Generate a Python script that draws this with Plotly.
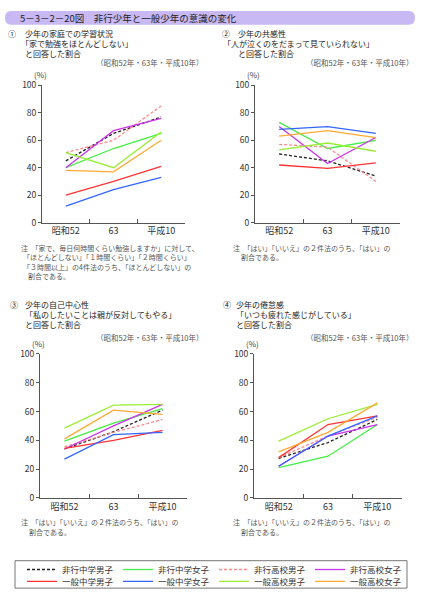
import plotly.graph_objects as go

W, H = 421, 600
FONT = "Noto Sans CJK JP"

categories = ["昭和52", "63", "平成10"]
series_names = ["非行中学男子", "非行中学女子", "非行高校男子", "非行高校女子",
                "一般中学男子", "一般中学女子", "一般高校男子", "一般高校女子"]
series_colors = ["#222222", "#44ee44", "#ff8888", "#cc33ee",
                 "#ff3333", "#3366ff", "#99ee33", "#ffaa33"]
series_dash = ["3px,2px", "solid", "3px,2px", "solid", "solid", "solid", "solid", "solid"]

# Panel 1: study at home - "hardly study"
p1_jh_delinq_m = [45, 65, 77]
p1_jh_delinq_f = [40, 54, 65]
p1_hs_delinq_m = [51, 60, 85]
p1_hs_delinq_f = [40, 67, 76]
p1_jh_gen_m = [20, 30, 41]
p1_jh_gen_f = [12, 24, 33]
p1_hs_gen_m = [51, 40, 66]
p1_hs_gen_f = [38, 37, 60]

# Panel 2: empathy
p2_jh_delinq_m = [50, 45, 34]
p2_jh_delinq_f = [73, 54, 60]
p2_hs_delinq_m = [57, 55, 30]
p2_hs_delinq_f = [70, 43, 62]
p2_jh_gen_m = [42, 39.5, 43.5]
p2_jh_gen_f = [68, 70, 65]
p2_hs_gen_m = [53, 58, 52]
p2_hs_gen_f = [63, 67, 62]

# Panel 3: self-centredness
p3_jh_delinq_m = [34, 46, 61]
p3_jh_delinq_f = [39.5, 52, 62]
p3_hs_delinq_m = [35.5, 45.5, 54.5]
p3_hs_delinq_f = [34, 50, 65]
p3_jh_gen_m = [34.5, 40, 47]
p3_jh_gen_f = [27, 44, 45.5]
p3_hs_gen_m = [48.5, 64.5, 65]
p3_hs_gen_f = [41, 61, 58]

# Panel 4: fatigue
p4_jh_delinq_m = [27.5, 38.5, 54.5]
p4_jh_delinq_f = [21, 29, 51]
p4_hs_delinq_m = [28, 43, 56]
p4_hs_delinq_f = [22, 43, 51]
p4_jh_gen_m = [28, 51, 57]
p4_jh_gen_f = [22, 43, 57]
p4_hs_gen_m = [39.5, 55, 65]
p4_hs_gen_f = [32, 45.5, 66]

panels = [
    [p1_jh_delinq_m, p1_jh_delinq_f, p1_hs_delinq_m, p1_hs_delinq_f,
     p1_jh_gen_m, p1_jh_gen_f, p1_hs_gen_m, p1_hs_gen_f],
    [p2_jh_delinq_m, p2_jh_delinq_f, p2_hs_delinq_m, p2_hs_delinq_f,
     p2_jh_gen_m, p2_jh_gen_f, p2_hs_gen_m, p2_hs_gen_f],
    [p3_jh_delinq_m, p3_jh_delinq_f, p3_hs_delinq_m, p3_hs_delinq_f,
     p3_jh_gen_m, p3_jh_gen_f, p3_hs_gen_m, p3_hs_gen_f],
    [p4_jh_delinq_m, p4_jh_delinq_f, p4_hs_delinq_m, p4_hs_delinq_f,
     p4_jh_gen_m, p4_jh_gen_f, p4_hs_gen_m, p4_hs_gen_f],
]

title_text = "5－3－2－20図　非行少年と一般少年の意識の変化"
headings = [
    ("①", ["少年の家庭での学習状況", "「家で勉強をほとんどしない」", "と回答した割合"]),
    ("②", ["少年の共感性", "「人が泣くのをだまって見ていられない」", "と回答した割合"]),
    ("③", ["少年の自己中心性", "「私のしたいことは親が反対してもやる」", "と回答した割合"]),
    ("④", ["少年の倦怠感", "「いつも疲れた感じがしている」", "と回答した割合"]),
]
period_text = "（昭和52年・63年・平成10年）"
notes = [
    ["注　「家で、毎日何時間くらい勉強しますか」に対して、",
     "「ほとんどしない」「１時間くらい」「２時間くらい」",
     "「３時間以上」の4件法のうち、「ほとんどしない」の",
     "割合である。"],
    ["注　「はい」「いいえ」の２件法のうち、「はい」の",
     "割合である。"],
    ["注　「はい」「いいえ」の２件法のうち、「はい」の",
     "割合である。"],
    ["注　「はい」「いいえ」の２件法のうち、「はい」の",
     "割合である。"],
]

# layout geometry in pixels: (x_left, x_right, y_top(100), y_bottom(0))
geom = [(42, 185, 80, 220), (255, 400, 80, 220),
        (40, 187, 354, 501), (254, 402, 354, 501)]
head_pos = [(7, 27), (221, 27), (9, 304), (222, 304)]
head_offs = [(17, 13, 17), (16, 1, 16), (15, 15, 15), (13, 13, 13)]
period_pos = [(204, 57), (414, 57), (204, 337), (414, 337)]
note_pos = [(20, 246), (232, 246), (20, 526), (232, 526)]
note_offs = [(0, 2, 2, 7), (0, 8), (0, 8), (0, 8)]


def px(x):
    return x / W


def py(y):
    return 1 - y / H


fig = go.Figure()

for i, data in enumerate(panels):
    ax = "" if i == 0 else str(i + 1)
    for j, vals in enumerate(data):
        fig.add_trace(go.Scatter(
            x=categories, y=vals, mode="lines",
            name=series_names[j], legendgroup=series_names[j],
            legend="legend" if j < 4 else "legend2",
            showlegend=(i == 0),
            line=dict(color=series_colors[j], width=1.3, dash=series_dash[j]),
            xaxis="x" + ax, yaxis="y" + ax,
        ))

leg_common = dict(orientation="h", xanchor="left", yanchor="middle",
                  entrywidth=51, entrywidthmode="pixels",
                  font=dict(size=8.5, family=FONT, color="#333333"),
                  bgcolor="rgba(0,0,0,0)", borderwidth=0, itemwidth=30)

layout = dict(
    width=W, height=H, margin=dict(l=0, r=0, t=0, b=0),
    paper_bgcolor="white", plot_bgcolor="white",
    font=dict(family=FONT, color="#333333", size=9),
    showlegend=True,
    legend=dict(x=px(22), y=py(574), **leg_common),
    legend2=dict(x=px(22), y=py(586), **leg_common),
)

annotations = []
shapes = []

for i, (xl, xr, yt, yb) in enumerate(geom):
    ax = "" if i == 0 else str(i + 1)
    layout["xaxis" + ax] = dict(
        domain=[px(xl), px(xr)], anchor="y" + ax, type="category",
        range=[-0.5, 2.5], tickson="boundaries", ticks="inside", ticklen=4,
        tickcolor="#555555", showline=True, linecolor="#555555", linewidth=1,
        showgrid=False, zeroline=False, tickfont=dict(size=9, color="#333333"),
        fixedrange=True,
    )
    layout["yaxis" + ax] = dict(
        domain=[py(yb), py(yt)], anchor="x" + ax, range=[0, 100],
        tickvals=[0, 20, 40, 60, 80, 100], ticks="outside", ticklen=3,
        tickcolor="#555555", showline=True, linecolor="#555555", linewidth=1,
        showgrid=False, zeroline=False, tickfont=dict(size=8.5, color="#333333"),
        fixedrange=True,
    )
    # (%) label
    annotations.append(dict(x=px(xl - 2), y=py(yt - 11), xref="paper", yref="paper",
                            text="(%)", showarrow=False, xanchor="center",
                            yanchor="middle", font=dict(size=8, color="#444444")))
    # headings
    hx, hy = head_pos[i]
    mark, lines = headings[i]
    annotations.append(dict(x=px(hx), y=py(hy), xref="paper", yref="paper",
                            text=mark, showarrow=False, xanchor="left",
                            yanchor="middle", borderpad=0,
                            font=dict(size=8, color="#222222")))
    for k, t in enumerate(lines):
        annotations.append(dict(x=px(hx + head_offs[i][k]), y=py(hy + 10 * k),
                                xref="paper", yref="paper", text=t, showarrow=False,
                                xanchor="left", yanchor="middle", borderpad=0,
                                font=dict(size=8, color="#222222")))
    ppx, ppy = period_pos[i]
    annotations.append(dict(x=px(ppx), y=py(ppy), xref="paper", yref="paper",
                            text=period_text, showarrow=False, xanchor="right",
                            yanchor="middle", borderpad=0,
                            font=dict(size=7.5, color="#555555")))
    # notes
    nx, ny = note_pos[i]
    for k, t in enumerate(notes[i]):
        annotations.append(dict(x=px(nx + note_offs[i][k]), y=py(ny + 9.5 * k),
                                xref="paper", yref="paper", text=t, showarrow=False,
                                xanchor="left", yanchor="middle", borderpad=0,
                                font=dict(size=7, color="#555555")))

# title bar
shapes.append(dict(type="path",
                   path=f"M {px(11)},{py(4)} L {px(409)},{py(4)} "
                        f"Q {px(415)},{py(4)} {px(415)},{py(11)} "
                        f"Q {px(415)},{py(18)} {px(409)},{py(18)} "
                        f"L {px(11)},{py(18)} Q {px(5)},{py(18)} {px(5)},{py(11)} "
                        f"Q {px(5)},{py(4)} {px(11)},{py(4)} Z",
                   xref="paper", yref="paper", fillcolor="#c8b8f4",
                   line=dict(width=0), layer="below"))
annotations.append(dict(x=px(18), y=py(11), xref="paper", yref="paper",
                        text=title_text, showarrow=False, xanchor="left",
                        yanchor="middle", font=dict(size=9.5, color="#222222")))

# legend box
shapes.append(dict(type="rect", x0=px(15), x1=px(407), y0=py(565), y1=py(593),
                   xref="paper", yref="paper", line=dict(color="#777777", width=1),
                   fillcolor="rgba(0,0,0,0)"))

layout["annotations"] = annotations
layout["shapes"] = shapes
fig.update_layout(**layout)

fig.write_html("out.html",
               config={"displayModeBar": False, "staticPlot": True},
               post_script="document.body.style.margin='0';"
                           "document.body.style.overflow='hidden';")
